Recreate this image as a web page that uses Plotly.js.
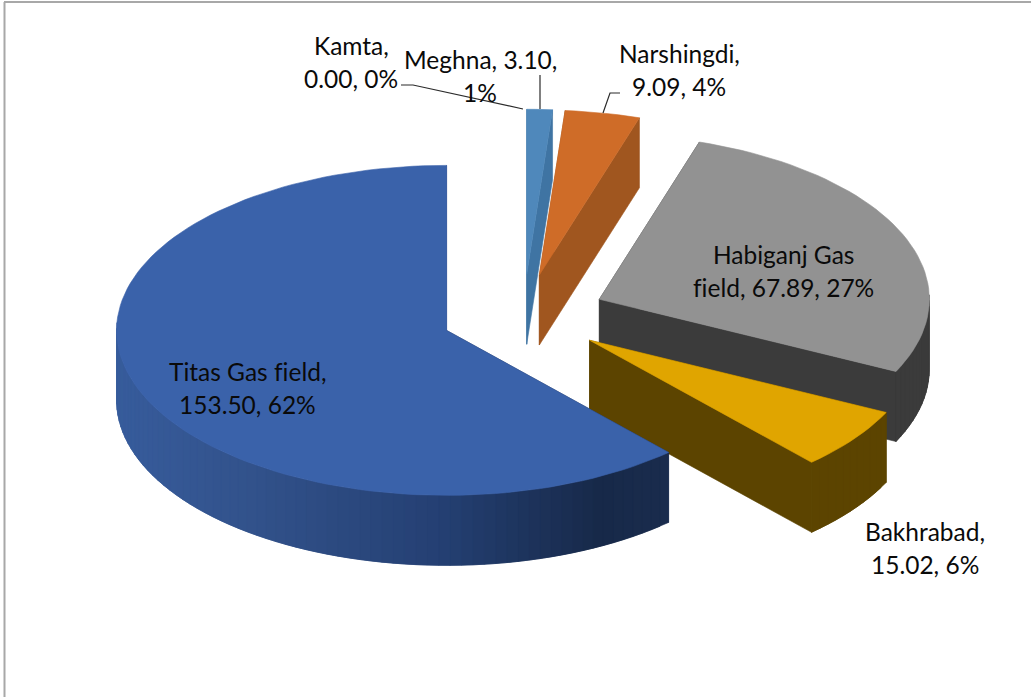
<!DOCTYPE html>
<html>
<head>
<meta charset="utf-8">
<script src="https://cdn.plot.ly/plotly-3.0.1.min.js"></script>
<style>html,body{margin:0;padding:0;background:#fff}#chart{width:1031px;height:697px}svg text{font-variant-ligatures:none !important;font-feature-settings:"liga" 0,"clig" 0 !important}</style>
</head>
<body>
<div id="chart"></div>
<script>
// Data, in clockwise order from 12 o'clock
const categories = ['Kamta', 'Meghna', 'Narshingdi', 'Habiganj Gas field', 'Bakhrabad', 'Titas Gas field'];
const values = [0.00, 3.10, 9.09, 67.89, 15.02, 153.50];

// Colours
const topColors = ['#4a86c0', '#4f88bb', '#cf6c28', '#929292', '#e0a500', '#3a62aa'];
const wallStops = [
  [[0, '#3f74a3']],
  [[0, '#3f74a3']],
  [[0, '#a0561f']],
  [[0, '#3b3b3b']],
  [[0, '#5c4400']],
  [[116, '#375c9c'], [250, '#32528b'], [446, '#243f72'], [600, '#172949'], [668, '#1a2c4d']]
];

// Label text, one entry per drawn line
const labelLines = [
  ['Kamta,', '0.00, 0%'],
  ['Meghna, 3.10,', '1%'],
  ['Narshingdi,', '9.09, 4%'],
  ['Habiganj Gas', 'field, 67.89, 27%'],
  ['Bakhrabad,', '15.02, 6%'],
  ['Titas Gas field,', '153.50, 62%']
];
const labelPos = [[351, 45], [480, 59], [679, 53], [783, 254], [925, 531], [247, 371]];
const lineGap = 33;

// Projection of the tilted pie
const cx = 523.5, cy = 315.5, rx = 330, ry = 165, explode = 0.25, depth = 70;
const rad = d => d * Math.PI / 180;
const total = values.reduce((a, b) => a + b, 0);

function hex(c) { return [1, 3, 5].map(i => parseInt(c.substr(i, 2), 16)); }
function wallColor(stops, x) {
  if (stops.length === 1) return stops[0][1];
  if (x <= stops[0][0]) return stops[0][1];
  for (let i = 1; i < stops.length; i++) {
    if (x <= stops[i][0]) {
      const t = (x - stops[i - 1][0]) / (stops[i][0] - stops[i - 1][0]);
      const a = hex(stops[i - 1][1]), b = hex(stops[i][1]);
      return 'rgb(' + a.map((v, k) => Math.round(v + (b[k] - v) * t)).join(',') + ')';
    }
  }
  return stops[stops.length - 1][1];
}
function poly(xs, ys, color) {
  return {type: 'scatter', mode: 'lines', x: xs, y: ys, fill: 'toself', fillcolor: color,
    line: {color: color, width: 0.6}, hoverinfo: 'skip', showlegend: false};
}

const traces = [];
let angle = 0;
values.forEach((v, i) => {
  const sweep = v / total * 360;
  const a0 = angle, a1 = angle + sweep;
  angle = a1;
  if (v === 0) return;
  const mid = rad((a0 + a1) / 2);
  const ax = cx + explode * rx * Math.sin(mid);
  const ay = cy - explode * ry * Math.cos(mid);
  const pt = d => [ax + rx * Math.sin(rad(d)), ay - ry * Math.cos(rad(d))];
  const n = Math.max(2, Math.ceil(sweep / 2));
  const arc = [];
  for (let k = 0; k <= n; k++) arc.push(a0 + (a1 - a0) * k / n);
  // Radial side walls
  [a0, a1].forEach(d => {
    const p = pt(d);
    traces.push(poly([ax, p[0], p[0], ax, ax], [ay, p[1], p[1] + depth, ay + depth, ay],
      wallColor(wallStops[i], (ax + p[0]) / 2)));
  });
  // Outer rim wall, front-facing part only; each band runs under the next one so no seams show
  for (let k = 0; k < n; k++) {
    const dm = (arc[k] + arc[k + 1]) / 2;
    if (Math.cos(rad(dm)) > 0.02) continue;
    const end = Math.min(n, k + 2);
    const xs = [], ysTop = [];
    for (let m = k; m <= end; m++) { const p = pt(arc[m]); xs.push(p[0]); ysTop.push(p[1]); }
    const px = xs.concat(xs.slice().reverse(), [xs[0]]);
    const py = ysTop.concat(ysTop.map(y => y + depth).reverse(), [ysTop[0]]);
    traces.push(poly(px, py, wallColor(wallStops[i], (pt(arc[k])[0] + pt(arc[k + 1])[0]) / 2)));
  }
  // Top face
  const xs = [ax], ys = [ay];
  arc.forEach(d => { const p = pt(d); xs.push(p[0]); ys.push(p[1]); });
  xs.push(ax); ys.push(ay);
  const t = poly(xs, ys, topColors[i]);
  t.name = categories[i];
  traces.push(t);
});

// Leader lines
const leaderX = [[401, 413, 523], [540, 540], [620, 610, 603]];
const leaderY = [[85, 85, 109], [75, 109], [93, 93, 113]];
leaderX.forEach((lx, i) => traces.push({type: 'scatter', mode: 'lines', x: lx, y: leaderY[i],
  line: {color: '#2b2b2b', width: 1.2}, hoverinfo: 'skip', showlegend: false}));

const annotations = [];
labelLines.forEach((lines, i) => lines.forEach((s, j) => annotations.push({
  text: s, x: labelPos[i][0], y: labelPos[i][1] + j * lineGap, xref: 'x', yref: 'y',
  xanchor: 'center', yanchor: 'middle', showarrow: false,
  font: {family: 'Lato, "Open Sans", sans-serif', size: 24.5, color: '#0a0a0a'}
})));

const layout = {
  width: 1031, height: 697,
  margin: {l: 0, r: 0, t: 0, b: 0},
  paper_bgcolor: '#fff', plot_bgcolor: '#fff',
  showlegend: false,
  xaxis: {range: [0, 1031], visible: false, fixedrange: true},
  yaxis: {range: [697, 0], visible: false, fixedrange: true},
  annotations: annotations,
  shapes: [
    {type: 'line', xref: 'x', yref: 'y', x0: 4.5, x1: 4.5, y0: 2, y1: 697, line: {color: '#a8a8a8', width: 2}},
    {type: 'line', xref: 'x', yref: 'y', x0: 4, x1: 1031, y0: 2, y1: 2, line: {color: '#a8a8a8', width: 2}}
  ]
};
Plotly.newPlot('chart', traces, layout, {displayModeBar: false, staticPlot: true});
</script>
</body>
</html>
